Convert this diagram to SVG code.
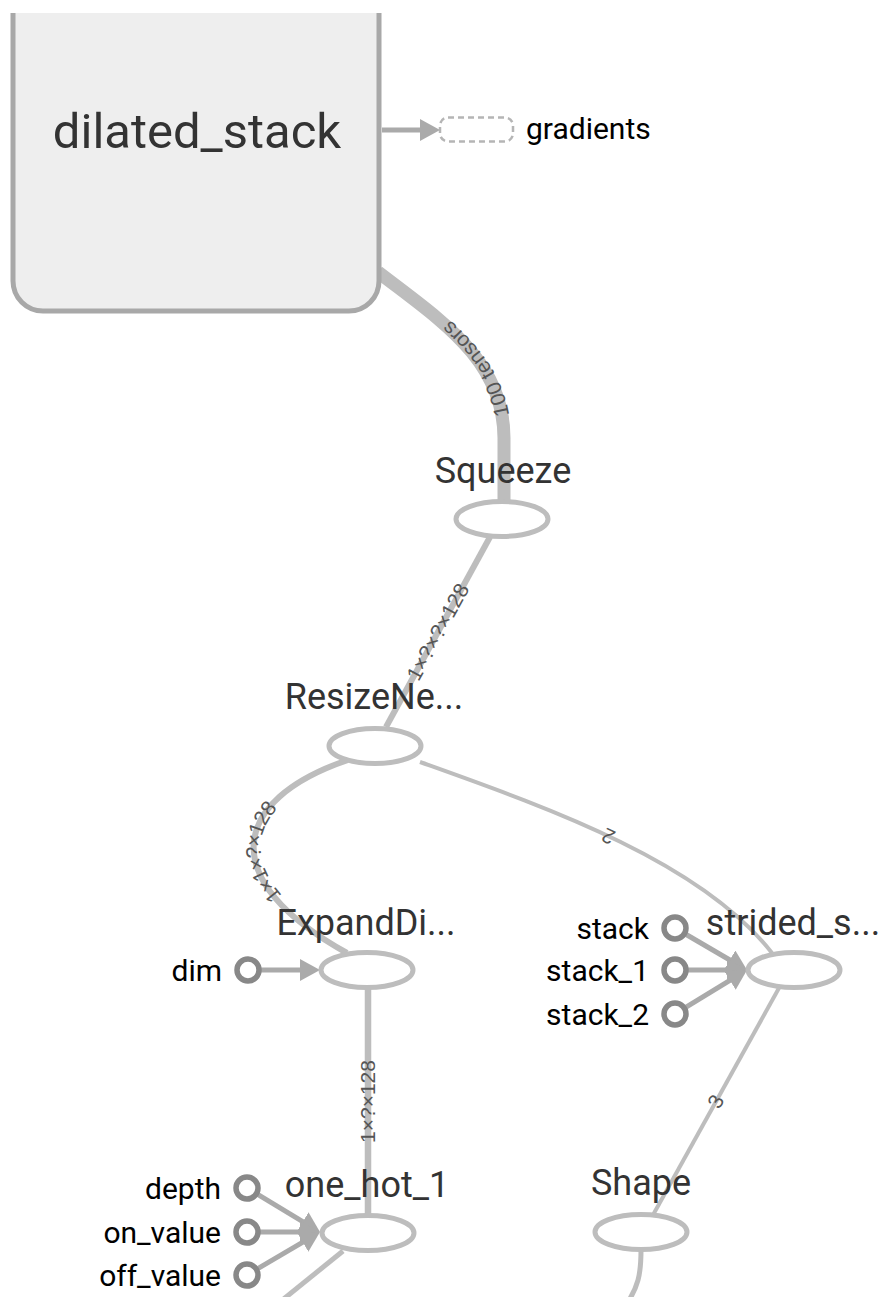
<svg xmlns="http://www.w3.org/2000/svg" width="883" height="1297" viewBox="0 0 883 1297">
<style>
.nl{font-family:Roboto,"Liberation Sans",sans-serif;font-size:36px;fill:#333;text-anchor:middle}
.il{font-family:Roboto,"Liberation Sans",sans-serif;font-size:30px;fill:#000;text-anchor:end}
.op{fill:#fff;stroke:#bdbdbd;stroke-width:5}
.cn{fill:#fff;stroke:#888;stroke-width:5.5}
.e{fill:none;stroke:#bdbdbd}
.ie{fill:none;stroke:#aaa;stroke-width:5;marker-end:url(#ah)}
.el{font-family:"Liberation Sans",Arial,sans-serif;font-size:21px;fill:#555}
</style>
<defs>
<marker id="ah" markerUnits="userSpaceOnUse" markerWidth="20" markerHeight="22" refX="10" refY="11" orient="auto">
<path d="M0,0 L20,11 L0,22 z" fill="#aaa"/>
</marker>
<clipPath id="top"><rect x="0" y="13" width="883" height="1284"/></clipPath>
</defs>
<rect width="883" height="1297" fill="#fff"/>
<g id="connectors">
<path id="e1" class="e" stroke-width="13" d="M504 502 L504 440 C505 360 440 320 378 272"/>
<path id="e2" class="e" stroke-width="6" d="M386 727 L490 537"/>
<path id="e3" class="e" stroke-width="6" d="M347 953 C215 880 230 800 348 760"/>
<path id="e4" class="e" stroke-width="4" d="M772 953 C700 860 540 805 420 762"/>
<path id="e5" class="e" stroke-width="4" d="M653 1215 L779 988"/>
<path id="e6" class="e" stroke-width="6.5" d="M368 1215 L368 988"/>
<path id="e7" class="e" stroke-width="5" d="M343 1251 L270 1310"/>
<path id="e8" class="e" stroke-width="5" d="M641 1250 C641 1275 638 1287 626 1305"/>
<text class="el" dy="7"><textPath href="#e1" startOffset="50%" text-anchor="middle">100 tensors</textPath></text>
<text class="el" dy="7"><textPath href="#e2" startOffset="50%" text-anchor="middle">1×?×?×128</textPath></text>
<text class="el" dy="7"><textPath href="#e3" startOffset="50%" text-anchor="middle">1×1×?×128</textPath></text>
<text class="el" dy="7"><textPath href="#e4" startOffset="50%" text-anchor="middle">2</textPath></text>
<text class="el" dy="7"><textPath href="#e5" startOffset="50%" text-anchor="middle">3</textPath></text>
<text class="el" dy="7"><textPath href="#e6" startOffset="50%" text-anchor="middle">1×?×128</textPath></text>
<line class="ie" x1="382" y1="130" x2="430" y2="130"/>
<line class="ie" x1="259" y1="970" x2="310" y2="970"/>
<line class="ie" x1="686.2" y1="934.5" x2="738.4" y2="965"/>
<line class="ie" x1="688" y1="970" x2="737" y2="970"/>
<line class="ie" x1="686.1" y1="1007.2" x2="738.5" y2="975.2"/>
<line class="ie" x1="258.1" y1="1194.7" x2="311.4" y2="1226.8"/>
<line class="ie" x1="260" y1="1232" x2="310" y2="1232"/>
<line class="ie" x1="258.2" y1="1268.4" x2="311.4" y2="1237.1"/>
</g>
<g id="dilated_stack" clip-path="url(#top)">
<rect x="13" y="-40" width="366" height="351" rx="30" fill="#eee" stroke="#a8a8a8" stroke-width="5"/>
<text x="197" y="148" font-family="Roboto,'Liberation Sans',sans-serif" font-size="49" fill="#333" text-anchor="middle">dilated_stack</text>
</g>
<g id="gradients">
<rect x="440" y="117.5" width="73" height="24" rx="8" fill="#fff" stroke="#b5b5b5" stroke-width="2.5" stroke-dasharray="6 4"/>
<text x="526" y="139" font-family="Roboto,'Liberation Sans',sans-serif" font-size="30" fill="#000">gradients</text>
</g>
<g id="Squeeze">
<ellipse class="op" cx="502" cy="519" rx="46" ry="17.5"/>
<text class="nl" x="503" y="483">Squeeze</text>
</g>
<g id="ResizeNe">
<ellipse class="op" cx="375" cy="746" rx="46" ry="17.5"/>
<text class="nl" x="374" y="709">ResizeNe...</text>
</g>
<g id="ExpandDi">
<ellipse class="op" cx="367" cy="970" rx="46" ry="17.5"/>
<text class="nl" x="366" y="935">ExpandDi...</text>
</g>
<g id="dim">
<circle class="cn" cx="248" cy="970" r="11"/>
<text class="il" x="222" y="980.5">dim</text>
</g>
<g id="strided_s">
<ellipse class="op" cx="794" cy="970" rx="46" ry="17.5"/>
<text class="nl" x="793" y="935">strided_s...</text>
</g>
<g id="stack">
<circle class="cn" cx="675" cy="928" r="11"/>
<text class="il" x="649" y="938.5">stack</text>
</g>
<g id="stack_1">
<circle class="cn" cx="675" cy="970" r="11"/>
<text class="il" x="649" y="980.5">stack_1</text>
</g>
<g id="stack_2">
<circle class="cn" cx="675" cy="1014" r="11"/>
<text class="il" x="649" y="1024.5">stack_2</text>
</g>
<g id="one_hot_1">
<ellipse class="op" cx="368" cy="1233" rx="46" ry="17.5"/>
<text class="nl" x="367" y="1197">one_hot_1</text>
</g>
<g id="depth">
<circle class="cn" cx="247" cy="1188" r="11"/>
<text class="il" x="221" y="1198.5">depth</text>
</g>
<g id="on_value">
<circle class="cn" cx="247" cy="1232" r="11"/>
<text class="il" x="221" y="1242.5">on_value</text>
</g>
<g id="off_value">
<circle class="cn" cx="247" cy="1275" r="11"/>
<text class="il" x="221" y="1285.5">off_value</text>
</g>
<g id="Shape">
<ellipse class="op" cx="641" cy="1232" rx="46" ry="17.5"/>
<text class="nl" x="641" y="1195">Shape</text>
</g>
</svg>
